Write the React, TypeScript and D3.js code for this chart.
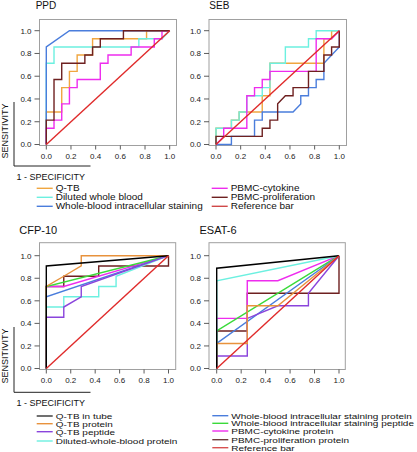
import React from "react";
import * as d3 from "d3";

type Pt = [number, number];

// ---------- tick labels ----------
const tickValues = [0, 0.2, 0.4, 0.6, 0.8, 1.0];

// ---------- PPD ----------
const ppdQTB: Pt[] = [[0,0],[0,0.286],[0.125,0.286],[0.125,0.5],[0.1875,0.5],[0.1875,0.643],[0.25,0.643],[0.25,0.786],[0.375,0.786],[0.375,0.929],[0.8125,0.929],[0.8125,1],[1,1]];
const ppdDiluted: Pt[] = [[0,0],[0,0.714],[0.0625,0.714],[0.0625,0.857],[0.75,0.857],[0.75,0.929],[0.9375,0.929],[1,1]];
const ppdWBIS: Pt[] = [[0,0],[0,0.857],[0.1875,1],[1,1]];
const ppdCytokine: Pt[] = [[0,0],[0,0.143],[0.0625,0.143],[0.0625,0.214],[0.125,0.214],[0.125,0.357],[0.1875,0.357],[0.1875,0.5],[0.25,0.5],[0.25,0.571],[0.4375,0.571],[0.4375,0.714],[0.5,0.714],[0.5,0.786],[0.6875,0.786],[0.6875,0.857],[0.875,0.857],[0.875,0.929],[0.9375,0.929],[0.9375,1],[1,1]];
const ppdProlif: Pt[] = [[0,0],[0,0.214],[0.0625,0.214],[0.0625,0.571],[0.125,0.571],[0.125,0.714],[0.3125,0.714],[0.3125,0.786],[0.375,0.786],[0.375,0.857],[0.4375,0.857],[0.4375,0.929],[0.625,0.929],[0.625,1],[1,1]];

// ---------- SEB ----------
const sebQTB: Pt[] = [[0,0],[0,0.143],[0.125,0.143],[0.125,0.214],[0.1875,0.214],[0.1875,0.286],[0.375,0.286],[0.375,0.429],[0.4375,0.429],[0.4375,0.714],[0.875,0.714],[0.875,0.929],[0.9375,0.929],[0.9375,1],[1,1]];
const sebDiluted: Pt[] = [[0,0],[0,0.143],[0.125,0.143],[0.125,0.214],[0.1875,0.214],[0.1875,0.286],[0.25,0.286],[0.25,0.429],[0.375,0.429],[0.375,0.5],[0.4375,0.5],[0.4375,0.714],[0.5625,0.714],[0.5625,0.857],[0.75,0.857],[0.75,0.929],[0.8125,0.929],[0.8125,1],[1,1]];
const sebWBIS: Pt[] = [[0,0],[0.125,0],[0.125,0.0714],[0.3125,0.0714],[0.3125,0.214],[0.375,0.214],[0.375,0.286],[0.625,0.286],[0.6875,0.357],[0.6875,0.429],[0.75,0.429],[0.75,0.5],[0.8125,0.5],[0.8125,0.571],[0.875,0.571],[0.875,0.714],[1,0.857],[1,1]];
const sebCytokine: Pt[] = [[0,0],[0.0625,0.0714],[0.0625,0.143],[0.25,0.143],[0.25,0.429],[0.3125,0.429],[0.3125,0.5],[0.375,0.5],[0.375,0.571],[0.4375,0.571],[0.4375,0.643],[0.8125,0.643],[0.8125,0.929],[0.9375,0.929],[1,1]];
const sebProlif: Pt[] = [[0,0],[0,0.0714],[0.375,0.0714],[0.375,0.143],[0.4375,0.143],[0.4375,0.214],[0.5,0.214],[0.5,0.357],[0.5625,0.429],[0.625,0.429],[0.625,0.5],[0.75,0.5],[0.75,0.643],[0.875,0.643],[0.875,0.786],[0.9375,0.786],[0.9375,0.857],[1,0.857],[1,1]];

const referenceBar: Pt[] = [[0,0],[1,1]];

// ---------- CFP-10 ----------
const cfpInTube: Pt[] = [[0,0],[0,0.909],[1,1]];
const cfpProtein: Pt[] = [[0,0],[0,0.727],[0.143,0.818],[0.286,0.909],[0.286,1],[1,1]];
const cfpPeptide: Pt[] = [[0,0],[0,0.455],[0.143,0.455],[0.143,0.545],[0.286,0.636],[0.286,0.727],[1,1]];
const cfpDiluted: Pt[] = [[0,0],[0,0.545],[0.143,0.545],[0.143,0.636],[0.429,0.636],[0.429,0.727],[0.571,0.727],[0.571,0.818],[1,1]];
const cfpWBISProtein: Pt[] = [[0,0],[0,0.636],[1,1]];
const cfpWBISPeptide: Pt[] = [[0,0],[0,0.727],[1,1]];
const cfpCytokine: Pt[] = [[0,0],[0,0.727],[0.143,0.727],[1,1]];
const cfpProlif: Pt[] = [[0,0],[0,0.727],[0.143,0.727],[0.143,0.818],[0.429,0.818],[0.429,0.909],[1,0.909],[1,1]];

// ---------- ESAT-6 ----------
const esatInTube: Pt[] = [[0,0],[0,0.889],[1,1]];
const esatProtein: Pt[] = [[0,0],[0,0.222],[0.25,0.222],[0.25,0.556],[0.5,0.556],[1,1]];
const esatPeptide: Pt[] = [[0,0],[0,0.111],[0.25,0.111],[0.25,0.444],[0.5,0.556],[0.75,0.556],[0.75,0.667],[1,1]];
const esatDiluted: Pt[] = [[0,0],[0,0.778],[1,1]];
const esatWBISProtein: Pt[] = [[0,0],[0,0.222],[1,1]];
const esatWBISPeptide: Pt[] = [[0,0],[0,0.333],[1,1]];
const esatCytokine: Pt[] = [[0,0],[0,0.444],[0.25,0.444],[0.25,0.778],[0.5,0.778],[1,1]];
const esatProlif: Pt[] = [[0,0],[0,0.333],[0.25,0.333],[0.25,0.667],[1,0.667],[1,1]];

// ---------- legends ----------
const topLegendLeft = ["Q-TB", "Diluted whole blood", "Whole-blood intracellular staining"];
const topLegendRight = ["PBMC-cytokine", "PBMC-proliferation", "Reference bar"];
const botLegendLeft = ["Q-TB in tube", "Q-TB protein", "Q-TB peptide", "Diluted-whole-blood protein"];
const botLegendRight = ["Whole-blood intracellular staining protein", "Whole-blood intracellular staining peptide", "PBMC-cytokine protein", "PBMC-proliferation protein", "Reference bar"];

const C = {
  orange: "#f0a640",
  cyan: "#6cf0e0",
  blue: "#4a7ddc",
  magenta: "#ee2cee",
  brown: "#6e2020",
  red: "#e02a2a",
  black: "#000000",
  purple: "#8a44dc",
  green: "#3ada3a",
  orange2: "#e8923c",
};

const topColorsLeft = [C.orange, C.cyan, C.blue];
const topColorsRight = [C.magenta, C.brown, "#d04848"];
const botColorsLeft = ["#333333", C.orange2, C.purple, C.cyan];
const botColorsRight = [C.blue, C.green, C.magenta, "#6e3a3a", "#d85050"];

const FONT = "'Liberation Sans', Arial, Helvetica, sans-serif";

interface PanelProps {
  title: string;
  titleX: number;
  titleY: number;
  titleSize: number;
  frame: [number, number, number, number]; // left, right, top, bottom
  xr: [number, number];
  yr: [number, number];
  series: { data: Pt[]; color: string }[];
}

function Panel({ title, titleX, titleY, titleSize, frame, xr, yr, series }: PanelProps) {
  const x = d3.scaleLinear().domain([0, 1]).range(xr);
  const y = d3.scaleLinear().domain([0, 1]).range(yr);
  const line = d3.line<Pt>().x((d) => x(d[0])).y((d) => y(d[1]));
  const [l, r, t, b] = frame;
  const fmt = d3.format(".1f");
  return (
    <g>
      <text x={titleX} y={titleY} fontSize={titleSize} fontFamily={FONT} fill="#111">{title}</text>
      <rect x={l} y={t} width={r - l} height={b - t} fill="none" stroke="#a0a0a0" strokeWidth={1} />
      {series.map((s, i) => (
        <path key={i} d={line(s.data) || ""} fill="none" stroke={s.color} strokeWidth={1.4} strokeLinejoin="miter" />
      ))}
      {tickValues.map((v) => (
        <g key={"y" + v}>
          <line x1={l - 5} x2={l} y1={y(v)} y2={y(v)} stroke="#333" strokeWidth={0.8} />
          <text x={l - 8} y={y(v) + 2.8} fontSize={8} textAnchor="end" fontFamily={FONT} fill="#222">{fmt(v)}</text>
        </g>
      ))}
      {tickValues.map((v) => (
        <g key={"x" + v}>
          <line x1={x(v)} x2={x(v)} y1={b} y2={b + 4} stroke="#333" strokeWidth={0.8} />
          <text x={x(v)} y={b + 13} fontSize={8} textAnchor="middle" fontFamily={FONT} fill="#222">{fmt(v)}</text>
        </g>
      ))}
    </g>
  );
}

function AxisNote({ yc, bracketTop, bracketY, specY }: { yc: number; bracketTop: number; bracketY: number; specY: number }) {
  return (
    <g>
      <text transform={`translate(7.5, ${yc}) rotate(-90)`} fontSize={9} textAnchor="middle" fontFamily={FONT} fill="#111">SENSITIVITY</text>
      <path d={`M14,${bracketTop} L14,${bracketY} L90.5,${bracketY}`} fill="none" stroke="#222" strokeWidth={1} />
      <text x={16.5} y={specY} fontSize={9} fontFamily={FONT} fill="#111">1 - SPECIFICITY</text>
    </g>
  );
}

function Legend({ items, colors, x, ys, sy }: { items: string[]; colors: string[]; x: number; ys: number[]; sy: number }) {
  return (
    <g>
      {items.map((t, i) => (
        <g key={t}>
          <line x1={x} x2={x + 16} y1={ys[i]} y2={ys[i]} stroke={colors[i]} strokeWidth={1.4} />
          <text transform={`translate(${x + 19}, ${ys[i] + 3}) scale(1, ${sy})`} fontSize={10} fontFamily={FONT} fill="#111">{t}</text>
        </g>
      ))}
    </g>
  );
}

export default function App() {
  const topFrameL: [number, number, number, number] = [39.5, 176.5, 19.5, 145.5];
  const topFrameR: [number, number, number, number] = [209, 346.5, 19.5, 145.5];
  const botFrameL: [number, number, number, number] = [39.5, 175.7, 242.7, 369.5];
  const botFrameR: [number, number, number, number] = [209, 345.3, 242.7, 369.5];

  const topSeries = (d: Pt[][]) => [
    { data: d[0], color: C.orange },
    { data: d[1], color: C.cyan },
    { data: d[2], color: C.blue },
    { data: d[3], color: C.magenta },
    { data: d[4], color: C.brown },
    { data: referenceBar, color: C.red },
  ];
  const botSeries = (d: Pt[][]) => [
    { data: d[7], color: C.brown },
    { data: d[6], color: C.magenta },
    { data: d[5], color: C.green },
    { data: d[4], color: C.blue },
    { data: d[3], color: C.cyan },
    { data: d[2], color: C.purple },
    { data: d[1], color: C.orange2 },
    { data: d[0], color: C.black },
    { data: referenceBar, color: C.red },
  ];

  return (
    <svg width={417} height={452} style={{ position: "absolute", left: 0, top: 0, background: "#fff" }}>
      <Panel title="PPD" titleX={35.7} titleY={8.8} titleSize={10} frame={topFrameL} xr={[46.3, 169.7]} yr={[144.5, 30.7]}
        series={topSeries([ppdQTB, ppdDiluted, ppdWBIS, ppdCytokine, ppdProlif])} />
      <Panel title="SEB" titleX={209.3} titleY={8.8} titleSize={10} frame={topFrameR} xr={[216, 339.3]} yr={[144.5, 30.7]}
        series={topSeries([sebQTB, sebDiluted, sebWBIS, sebCytokine, sebProlif])} />
      <Panel title="CFP-10" titleX={19.3} titleY={234} titleSize={11} frame={botFrameL} xr={[46.3, 168.5]} yr={[368.5, 255.7]}
        series={botSeries([cfpInTube, cfpProtein, cfpPeptide, cfpDiluted, cfpWBISProtein, cfpWBISPeptide, cfpCytokine, cfpProlif])} />
      <Panel title="ESAT-6" titleX={199.5} titleY={234} titleSize={11} frame={botFrameR} xr={[216.7, 339]} yr={[368.5, 255.7]}
        series={botSeries([esatInTube, esatProtein, esatPeptide, esatDiluted, esatWBISProtein, esatWBISPeptide, esatCytokine, esatProlif])} />

      <AxisNote yc={131} bracketTop={102} bracketY={166} specY={180} />
      <AxisNote yc={356} bracketTop={327} bracketY={392.3} specY={406} />

      <Legend items={topLegendLeft} colors={topColorsLeft} x={36.7} ys={[188.3, 197.3, 206.3]} sy={0.82} />
      <Legend items={topLegendRight} colors={topColorsRight} x={211.7} ys={[188.3, 197.3, 206.3]} sy={0.82} />
      <Legend items={botLegendLeft} colors={botColorsLeft} x={36.7} ys={[416, 423.7, 431.7, 441]} sy={0.72} />
      <Legend items={botLegendRight} colors={botColorsRight} x={212.3} ys={[415.7, 423.3, 431, 439.7, 447.7]} sy={0.72} />
    </svg>
  );
}
